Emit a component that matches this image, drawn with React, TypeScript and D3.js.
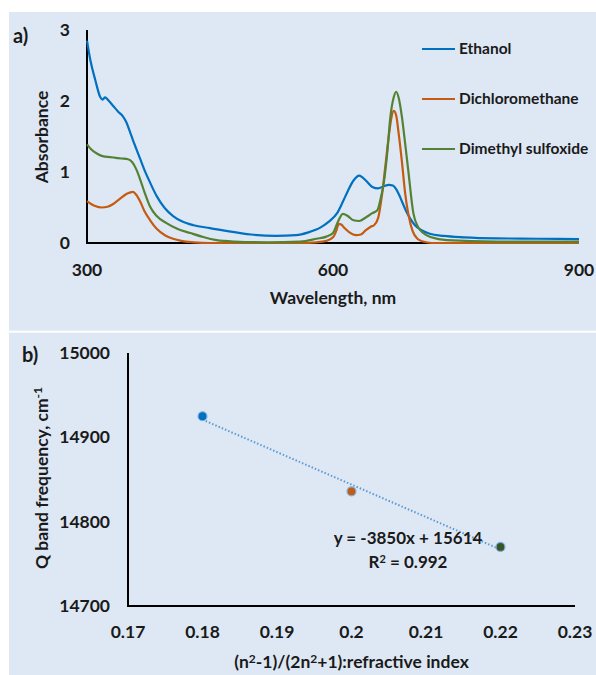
import React from "react";
import * as d3 from "d3";

// ---------- Panel a: absorbance spectra ----------
const ethanolWl = [300,304,310,316,319,322,326,332,338,344,348,352,356,360,365,370,377,385,395,405,415,430,450,470,500,530,555,570,585,595,605,612,618,625,632,640,648,655,662,668,673,677,681,685,690,695,700,708,718,735,760,800,850,900];
const ethanolAbs = [2.85,2.58,2.30,2.06,2.02,2.05,2.01,1.93,1.85,1.78,1.70,1.58,1.45,1.33,1.18,1.03,0.85,0.66,0.49,0.38,0.31,0.25,0.21,0.17,0.12,0.10,0.11,0.15,0.22,0.30,0.42,0.58,0.73,0.88,0.95,0.88,0.79,0.77,0.80,0.82,0.81,0.76,0.67,0.56,0.43,0.33,0.25,0.18,0.13,0.10,0.08,0.065,0.06,0.055];

const dcmWl = [300,305,310,318,325,332,340,348,352,356,360,365,370,377,385,395,405,415,430,450,500,560,580,592,600,604,607,610,614,620,628,634,640,646,650,655,660,664,668,671,674,677,680,684,688,692,697,703,710,720,800,900];
const dcmAbs = [0.59,0.55,0.52,0.50,0.51,0.55,0.62,0.69,0.71,0.72,0.68,0.58,0.45,0.32,0.20,0.11,0.06,0.03,0.01,0.0,0.0,0.0,0.01,0.03,0.08,0.17,0.27,0.26,0.21,0.15,0.11,0.12,0.18,0.23,0.25,0.35,0.70,1.10,1.50,1.75,1.86,1.80,1.55,1.15,0.70,0.40,0.17,0.06,0.02,0.0,0.0,0.0];

const dmsoWl = [300,305,312,320,328,335,342,350,355,360,365,370,377,385,397,410,426,440,458,480,520,560,580,592,600,606,612,618,625,632,640,648,654,658,662,666,670,674,677,680,684,688,692,698,704,710,720,739,800,900];
const dmsoAbs = [1.39,1.32,1.26,1.22,1.21,1.20,1.19,1.18,1.14,1.04,0.89,0.72,0.51,0.38,0.28,0.20,0.14,0.09,0.04,0.02,0.01,0.02,0.06,0.09,0.14,0.30,0.41,0.38,0.32,0.31,0.36,0.42,0.46,0.62,0.85,1.25,1.78,2.05,2.13,2.05,1.78,1.40,1.00,0.42,0.22,0.14,0.08,0.04,0.02,0.02];

const seriesNames = ["Ethanol", "Dichloromethane", "Dimethyl sulfoxide"];
const seriesColors = ["#0070C0", "#C55A11", "#548235"];
const xTicksA = [300, 600, 900];
const yTicksA = [0, 1, 2, 3];

// ---------- Panel b: Q band vs refractive index function ----------
const refIndex = [0.18, 0.2, 0.22];
const qBand = [14925, 14836, 14770];
const pointColors = ["#0070C0", "#C55A11", "#375623"];
const trendSlope = -3850;
const trendIntercept = 15614;
const rSquared = 0.992;
const xTicksB = [0.17, 0.18, 0.19, 0.2, 0.21, 0.22, 0.23];
const yTicksB = [14700, 14800, 14900, 15000];

const FONT = "Lato, 'Open Sans', sans-serif";
const TXT = "#1a1a1a";
const BG = "#DEE8F4";
const FS = 17.5;

export default function App() {
  const xA = d3.scaleLinear().domain([300, 900]).range([87, 579]);
  const yA = d3.scaleLinear().domain([0, 3]).range([243, 30]);
  const series = [
    { wl: ethanolWl, abs: ethanolAbs },
    { wl: dcmWl, abs: dcmAbs },
    { wl: dmsoWl, abs: dmsoAbs },
  ];
  const lineA = d3
    .line<[number, number]>()
    .x((d) => xA(d[0]))
    .y((d) => yA(d[1]))
    .curve(d3.curveMonotoneX);

  const xB = d3.scaleLinear().domain([0.17, 0.23]).range([128, 575]);
  const yB = d3.scaleLinear().domain([14700, 15000]).range([606, 353]);
  const trendX = [d3.min(refIndex)!, d3.max(refIndex)!];

  return (
    <svg
      width={596}
      height={675}
      style={{ position: "absolute", left: 0, top: 0, fontFamily: FONT }}
    >
      <rect x={0} y={0} width={596} height={675} fill="#ffffff" />
      <rect x={9} y={12} width={587} height={318.7} fill={BG} />
      <rect x={9} y={332.7} width={587} height={342.3} fill={BG} />

      {/* ---- Panel a ---- */}
      <text x={13} y={43} fontSize={20} fontWeight={700} fill={TXT}>a)</text>
      <line x1={xA(300)} x2={xA(900)} y1={yA(0)} y2={yA(0)} stroke="#000" strokeWidth={2} />
      <line x1={xA(300)} x2={xA(300)} y1={yA(0) + 1} y2={yA(3)} stroke="#000" strokeWidth={2} />
      {yTicksA.map((t) => (
        <text key={t} x={70} y={yA(t)} dy="0.35em" textAnchor="end" fontSize={FS} fontWeight={700} fill={TXT}>
          {t}
        </text>
      ))}
      {xTicksA.map((t) => (
        <text key={t} x={xA(t)} y={270} dy="0.35em" textAnchor="middle" fontSize={FS} fontWeight={700} fill={TXT}>
          {t}
        </text>
      ))}
      <text x={(xA(300) + xA(900)) / 2} y={298} dy="0.35em" textAnchor="middle" fontSize={FS} fontWeight={700} fill={TXT}>
        Wavelength, nm
      </text>
      <text
        transform={`translate(42,137) rotate(-90)`}
        textAnchor="middle"
        dy="0.35em"
        fontSize={FS}
        fontWeight={700}
        fill={TXT}
      >
        Absorbance
      </text>
      {series.map((s, i) => (
        <path
          key={i}
          d={lineA(s.wl.map((w, j) => [w, s.abs[j]] as [number, number])) || ""}
          fill="none"
          stroke={seriesColors[i]}
          strokeWidth={2.2}
          strokeLinejoin="round"
        />
      ))}
      {seriesNames.map((n, i) => (
        <g key={n}>
          <line x1={422} x2={455} y1={49 + i * 50} y2={49 + i * 50} stroke={seriesColors[i]} strokeWidth={2.2} />
          <text x={459} y={49 + i * 50} dy="0.35em" fontSize={15.5} fontWeight={700} fill={TXT}>
            {n}
          </text>
        </g>
      ))}

      {/* ---- Panel b ---- */}
      <text x={22} y={362} fontSize={20} fontWeight={700} fill={TXT}>b)</text>
      <line x1={xB(0.17)} x2={xB(0.23)} y1={yB(14700)} y2={yB(14700)} stroke="#000" strokeWidth={2} />
      <line x1={xB(0.17)} x2={xB(0.17)} y1={yB(14700) + 1} y2={yB(15000)} stroke="#000" strokeWidth={2} />
      {yTicksB.map((t) => (
        <text key={t} x={110} y={yB(t)} dy="0.35em" textAnchor="end" fontSize={FS} fontWeight={700} fill={TXT}>
          {t}
        </text>
      ))}
      {xTicksB.map((t) => (
        <text key={t} x={xB(t)} y={632} dy="0.35em" textAnchor="middle" fontSize={FS} fontWeight={700} fill={TXT}>
          {t}
        </text>
      ))}
      <text x={(xB(0.17) + xB(0.23)) / 2} y={662} dy="0.35em" textAnchor="middle" fontSize={FS} fontWeight={700} fill={TXT}>
        (n<tspan dy="-5" fontSize={12}>2</tspan><tspan dy="5">-1)/(2n</tspan>
        <tspan dy="-5" fontSize={12}>2</tspan><tspan dy="5">+1):refractive index</tspan>
      </text>
      <text
        transform={`translate(42,478) rotate(-90)`}
        textAnchor="middle"
        dy="0.35em"
        fontSize={FS}
        fontWeight={700}
        fill={TXT}
      >
        Q band frequency, cm<tspan dy="-6" fontSize={12}>-1</tspan>
      </text>
      <line
        x1={xB(trendX[0])}
        x2={xB(trendX[1])}
        y1={yB(trendSlope * trendX[0] + trendIntercept)}
        y2={yB(trendSlope * trendX[1] + trendIntercept)}
        stroke="#5B9BD5"
        strokeWidth={2}
        strokeDasharray="1.5 2"
      />
      {refIndex.map((x, i) => (
        <circle key={i} cx={xB(x)} cy={yB(qBand[i])} r={4.5} fill={pointColors[i]} stroke="#7FB2E5" strokeWidth={1.2} />
      ))}
      <text x={408} y={538} dy="0.35em" textAnchor="middle" fontSize={17} fontWeight={700} fill={TXT}>
        {`y = ${trendSlope}x + ${trendIntercept}`}
      </text>
      <text x={408} y={562} dy="0.35em" textAnchor="middle" fontSize={17} fontWeight={700} fill={TXT}>
        R<tspan dy="-5" fontSize={11}>2</tspan><tspan dy="5">{` = ${rSquared}`}</tspan>
      </text>
    </svg>
  );
}
